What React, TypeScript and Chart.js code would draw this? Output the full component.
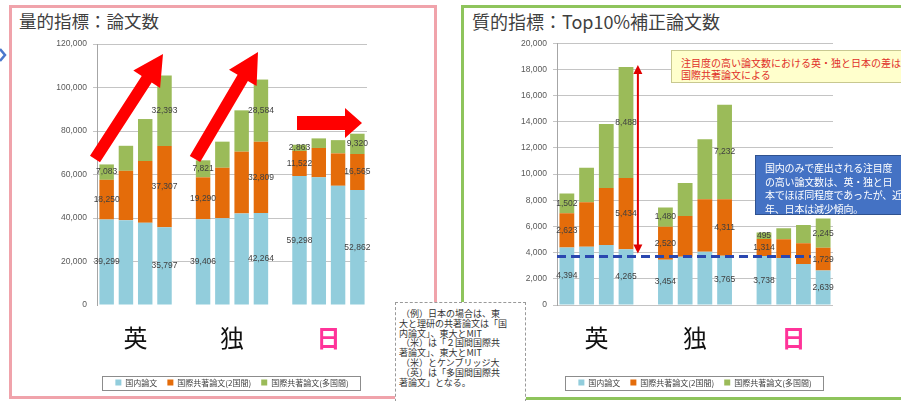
import React, { useEffect, useRef } from 'react';
import { Chart, registerables } from 'chart.js';

Chart.register(...registerables);

// ---------- data ----------
const categories = ['英-1', '英-2', '英-3', '英-4', '', '独-1', '独-2', '独-3', '独-4', ' ', '日-1', '日-2', '日-3', '日-4'];
const groupNames = ['英', '独', '日'];
const groupFirstIndex = [0, 5, 10];
const groupNameColors = ['#111111', '#111111', '#FF3399'];
const seriesNames = ['国内論文', '国際共著論文(2国間)', '国際共著論文(多国間)'];
const seriesColors = ['#92CDDC', '#E46C0A', '#9BBB59'];
const labeledIndex = [0, 3, 5, 8, 10, 13];

// 量的指標：論文数
const qtyDomestic = [39299, 39000, 37800, 35797, null, 39406, 39900, 42100, 42264, null, 59298, 58700, 54800, 52862];
const qtyBilateral = [18250, 22700, 28400, 37307, null, 19290, 23200, 28400, 32809, null, 11522, 13500, 14900, 16565];
const qtyMultilateral = [7083, 11500, 19300, 32393, null, 7821, 12000, 19000, 28584, null, 2863, 4400, 6100, 9320];
const qtyMax = 120000;
const qtyStep = 20000;

// 質的指標：Top10%補正論文数
const qualDomestic = [4394, 4450, 4590, 4265, null, 3454, 3690, 4070, 3765, null, 3738, 3600, 3130, 2639];
const qualBilateral = [2623, 3400, 4350, 5434, null, 2520, 3110, 4010, 4311, null, 1314, 1420, 1580, 1729];
const qualMultilateral = [1502, 2640, 4890, 8488, null, 1480, 2520, 4580, 7232, null, 495, 840, 1400, 2245];
const qualMax = 20000;
const qualStep = 2000;
const qualDomesticLevel = 3700;
const qualArrowIndex = 3;
const qualLineEndIndex = 12;

const NUM_FONT = '"Liberation Sans", Arial, sans-serif';
const JP_FONT = '"Noto Sans CJK JP", "Noto Sans", sans-serif';

function fmt(v: number) {
  return v.toLocaleString('en-US');
}

function makePlugin(withAnnotations: boolean) {
  return {
    id: 'deco',
    afterDatasetsDraw(chart: any) {
      const { ctx, chartArea } = chart;
      const yS = chart.scales.y;
      if (withAnnotations) {
        const topMeta = chart.getDatasetMeta(2);
        const el: any = topMeta.data[qualArrowIndex];
        const total =
          (qualDomestic[qualArrowIndex] as number) +
          (qualBilateral[qualArrowIndex] as number) +
          (qualMultilateral[qualArrowIndex] as number);
        const ax = el.x + el.width / 2 + 4.5;
        const yTop = yS.getPixelForValue(total) - 2;
        const yLine = yS.getPixelForValue(qualDomesticLevel);
        const yBot = yLine - 3;
        // dashed domestic level line
        const endEl: any = topMeta.data[qualLineEndIndex];
        ctx.save();
        ctx.strokeStyle = '#2A47B0';
        ctx.lineWidth = 3;
        ctx.setLineDash([9, 5]);
        ctx.beginPath();
        ctx.moveTo(chartArea.left, yLine);
        ctx.lineTo(endEl.x + endEl.width / 2, yLine);
        ctx.stroke();
        ctx.restore();
        // red double arrow
        ctx.save();
        ctx.strokeStyle = '#E00000';
        ctx.fillStyle = '#E00000';
        ctx.lineWidth = 2;
        ctx.beginPath();
        ctx.moveTo(ax, yTop + 8);
        ctx.lineTo(ax, yBot - 8);
        ctx.stroke();
        ctx.beginPath();
        ctx.moveTo(ax, yTop);
        ctx.lineTo(ax - 4.5, yTop + 9);
        ctx.lineTo(ax + 4.5, yTop + 9);
        ctx.closePath();
        ctx.fill();
        ctx.beginPath();
        ctx.moveTo(ax, yBot);
        ctx.lineTo(ax - 4.5, yBot - 9);
        ctx.lineTo(ax + 4.5, yBot - 9);
        ctx.closePath();
        ctx.fill();
        ctx.restore();
      }
      // data labels
      ctx.save();
      ctx.font = `8.5px ${NUM_FONT}`;
      ctx.fillStyle = '#404040';
      ctx.textAlign = 'center';
      ctx.textBaseline = 'middle';
      chart.data.datasets.forEach((ds: any, di: number) => {
        const meta = chart.getDatasetMeta(di);
        labeledIndex.forEach((i) => {
          const v = ds.data[i];
          const el: any = meta.data[i];
          if (v == null || !el) return;
          ctx.fillText(fmt(v), el.x, (el.y + el.base) / 2);
        });
      });
      ctx.restore();
    },
    afterDraw(chart: any) {
      const { ctx, chartArea } = chart;
      const xS = chart.scales.x;
      // group names below the plot
      ctx.save();
      ctx.textAlign = 'center';
      ctx.textBaseline = 'middle';
      groupNames.forEach((g, gi) => {
        const cx = (xS.getPixelForValue(groupFirstIndex[gi] + 1) + xS.getPixelForValue(groupFirstIndex[gi] + 2)) / 2;
        ctx.font = `${gi === 2 ? 'bold ' : ''}24px ${JP_FONT}`;
        ctx.fillStyle = groupNameColors[gi];
        ctx.fillText(g, cx, chartArea.bottom + 33);
      });
      ctx.restore();
      // legend frame
      const lg: any = chart.legend;
      const hb = lg && lg.legendHitBoxes;
      if (hb && hb.length) {
        const minX = Math.min(...hb.map((h: any) => h.left));
        const maxX = Math.max(...hb.map((h: any) => h.left + h.width));
        const top = hb[0].top;
        const hh = hb[0].height;
        ctx.save();
        ctx.strokeStyle = '#8C8C8C';
        ctx.lineWidth = 1;
        ctx.strokeRect(Math.round(minX - 13) + 0.5, Math.round(top - 3) + 0.5, Math.round(maxX - minX + 25), Math.round(hh + 6));
        ctx.restore();
      }
    },
  };
}

function makeConfig(
  d1: (number | null)[],
  d2: (number | null)[],
  d3: (number | null)[],
  max: number,
  step: number,
  yWidth: number,
  pad: { top: number; right: number; bottom: number },
  hideZeroGrid: boolean,
  withAnnotations: boolean
): any {
  const series = [d1, d2, d3];
  return {
    type: 'bar',
    data: {
      labels: categories,
      datasets: series.map((d, i) => ({
        label: seriesNames[i],
        data: d,
        backgroundColor: seriesColors[i],
        borderWidth: 0,
        barPercentage: 0.75,
        categoryPercentage: 1,
        stack: 's',
      })),
    },
    options: {
      responsive: false,
      animation: false,
      layout: { padding: { left: 0, right: pad.right, top: pad.top, bottom: pad.bottom } },
      plugins: {
        tooltip: { enabled: false },
        legend: {
          position: 'bottom',
          fullSize: false,
          align: 'center',
          labels: {
            boxWidth: 6,
            boxHeight: 6,
            padding: 10,
            color: '#404040',
            font: { size: 8, family: JP_FONT },
          },
        },
      },
      scales: {
        x: {
          stacked: true,
          grid: { display: false },
          border: { display: false },
          ticks: { display: false },
          afterFit: (s: any) => {
            s.height = 63.5;
          },
        },
        y: {
          stacked: true,
          min: 0,
          max,
          ticks: {
            stepSize: step,
            padding: 6,
            color: '#595959',
            font: { size: 8.5, family: NUM_FONT },
            callback: (v: any) => fmt(Number(v)),
          },
          grid: {
            color: (c: any) => (hideZeroGrid && c.tick && c.tick.value === 0 ? 'rgba(0,0,0,0)' : '#C4C4C4'),
            tickLength: 4,
          },
          border: { display: true, color: '#A6A6A6' },
          afterFit: (s: any) => {
            s.width = yWidth;
          },
        },
      },
    },
    plugins: [makePlugin(withAnnotations)],
  };
}

function ChartBox({ make, left, top, w, h }: { make: () => any; left: number; top: number; w: number; h: number }) {
  const ref = useRef<HTMLCanvasElement>(null);
  useEffect(() => {
    const chart = new Chart(ref.current as HTMLCanvasElement, make());
    return () => chart.destroy();
  }, []);
  return (
    <canvas
      ref={ref}
      width={w}
      height={h}
      style={{ position: 'absolute', left, top, width: w, height: h }}
    />
  );
}

function arrowPoints(x1: number, y1: number, x2: number, y2: number, shaft: number, headW: number, headL: number) {
  const dx = x2 - x1;
  const dy = y2 - y1;
  const len = Math.hypot(dx, dy);
  const ux = dx / len;
  const uy = dy / len;
  const px = -uy;
  const py = ux;
  const bx = x2 - ux * headL;
  const by = y2 - uy * headL;
  const pts = [
    [x1 + (px * shaft) / 2, y1 + (py * shaft) / 2],
    [bx + (px * shaft) / 2, by + (py * shaft) / 2],
    [bx + (px * headW) / 2, by + (py * headW) / 2],
    [x2, y2],
    [bx - (px * headW) / 2, by - (py * headW) / 2],
    [bx - (px * shaft) / 2, by - (py * shaft) / 2],
    [x1 - (px * shaft) / 2, y1 - (py * shaft) / 2],
  ];
  return pts.map((p) => `${p[0].toFixed(1)},${p[1].toFixed(1)}`).join(' ');
}

const noteLines = [
  ' （例）日本の場合は、東',
  '大と理研の共著論文は「国',
  '内論文」、東大とMIT',
  ' （米）は「２国間国際共',
  '著論文」、東大とMIT',
  ' （米）とケンブリッジ大',
  ' （英）は「多国間国際共',
  '著論文」となる。',
];
const yellowLines = ['注目度の高い論文数における英・独と日本の差は、', '国際共著論文による'];
const blueLines = ['国内のみで産出される注目度', 'の高い論文数は、英・独と日', '本でほぼ同程度であったが、近', '年、日本は減少傾向。'];

export default function App() {
  return (
    <div
      style={{
        position: 'fixed',
        left: 0,
        top: 0,
        width: 901,
        height: 401,
        background: '#ffffff',
        overflow: 'hidden',
        fontFamily: JP_FONT,
      }}
    >
      {/* panels */}
      <div
        style={{
          position: 'absolute',
          left: 9,
          top: 5,
          width: 428,
          height: 394,
          boxSizing: 'border-box',
          border: '3px solid #F0A3AB',
        }}
      />
      <div
        style={{
          position: 'absolute',
          left: 461,
          top: 5,
          width: 470,
          height: 395,
          boxSizing: 'border-box',
          border: '3px solid #8EC45C',
        }}
      />
      <svg width={10} height={20} style={{ position: 'absolute', left: 0, top: 45 }}>
        <polyline points="0,4 5,10 0,16" fill="none" stroke="#4A78CC" strokeWidth={2.5} />
      </svg>

      {/* titles */}
      <div style={{ position: 'absolute', left: 19, top: 12, fontSize: 17.5, lineHeight: '18px', color: '#3F3F3F', whiteSpace: 'pre' }}>
        量的指標：論文数
      </div>
      <div style={{ position: 'absolute', left: 472, top: 12, fontSize: 18, lineHeight: '18px', color: '#3F3F3F', whiteSpace: 'pre' }}>
        質的指標：Top10%補正論文数
      </div>

      {/* charts */}
      <ChartBox
        left={30}
        top={30}
        w={350}
        h={370}
        make={() =>
          makeConfig(qtyDomestic, qtyBilateral, qtyMultilateral, qtyMax, qtyStep, 67, { top: 14, right: 13, bottom: 3.5 }, true, false)
        }
      />
      <ChartBox
        left={500}
        top={30}
        w={345}
        h={370}
        make={() =>
          makeConfig(qualDomestic, qualBilateral, qualMultilateral, qualMax, qualStep, 57, { top: 13.3, right: 12, bottom: 3.5 }, false, true)
        }
      />

      {/* trend arrows */}
      <svg width={901} height={401} style={{ position: 'absolute', left: 0, top: 0, pointerEvents: 'none' }}>
        <polygon points={arrowPoints(95, 159, 163, 54, 12, 32, 30)} fill="#FF0000" />
        <polygon points={arrowPoints(195, 159, 258, 52, 12, 32, 30)} fill="#FF0000" />
        <polygon points={arrowPoints(297, 123, 362, 123, 14, 30, 17)} fill="#FF0000" />
      </svg>

      {/* yellow note */}
      <div
        style={{
          position: 'absolute',
          left: 671,
          top: 50,
          width: 260,
          height: 33,
          boxSizing: 'border-box',
          background: '#FFFFCC',
          border: '1px solid #C8C890',
          padding: '6px 0 0 9px',
          color: '#E0302A',
          fontSize: 10,
          lineHeight: '12px',
          whiteSpace: 'pre',
        }}
      >
        {yellowLines.join('\n')}
      </div>

      {/* blue note */}
      <div
        style={{
          position: 'absolute',
          left: 755,
          top: 155,
          width: 160,
          height: 60,
          boxSizing: 'border-box',
          background: '#4472C4',
          border: '1px solid #2F528F',
          padding: '5px 0 0 9px',
          color: '#FFFFFF',
          fontSize: 10,
          letterSpacing: '-0.2px',
          lineHeight: '13.5px',
          whiteSpace: 'pre',
        }}
      >
        {blueLines.join('\n')}
      </div>

      {/* example note */}
      <div
        style={{
          position: 'absolute',
          left: 395,
          top: 302,
          width: 131,
          height: 110,
          boxSizing: 'border-box',
          background: '#FFFFFF',
          border: '1px dashed #9A9A9A',
          padding: '6px 0 0 3px',
          color: '#333333',
          fontSize: 9,
          lineHeight: '9.8px',
          whiteSpace: 'pre',
        }}
      >
        {noteLines.join('\n')}
      </div>
    </div>
  );
}
